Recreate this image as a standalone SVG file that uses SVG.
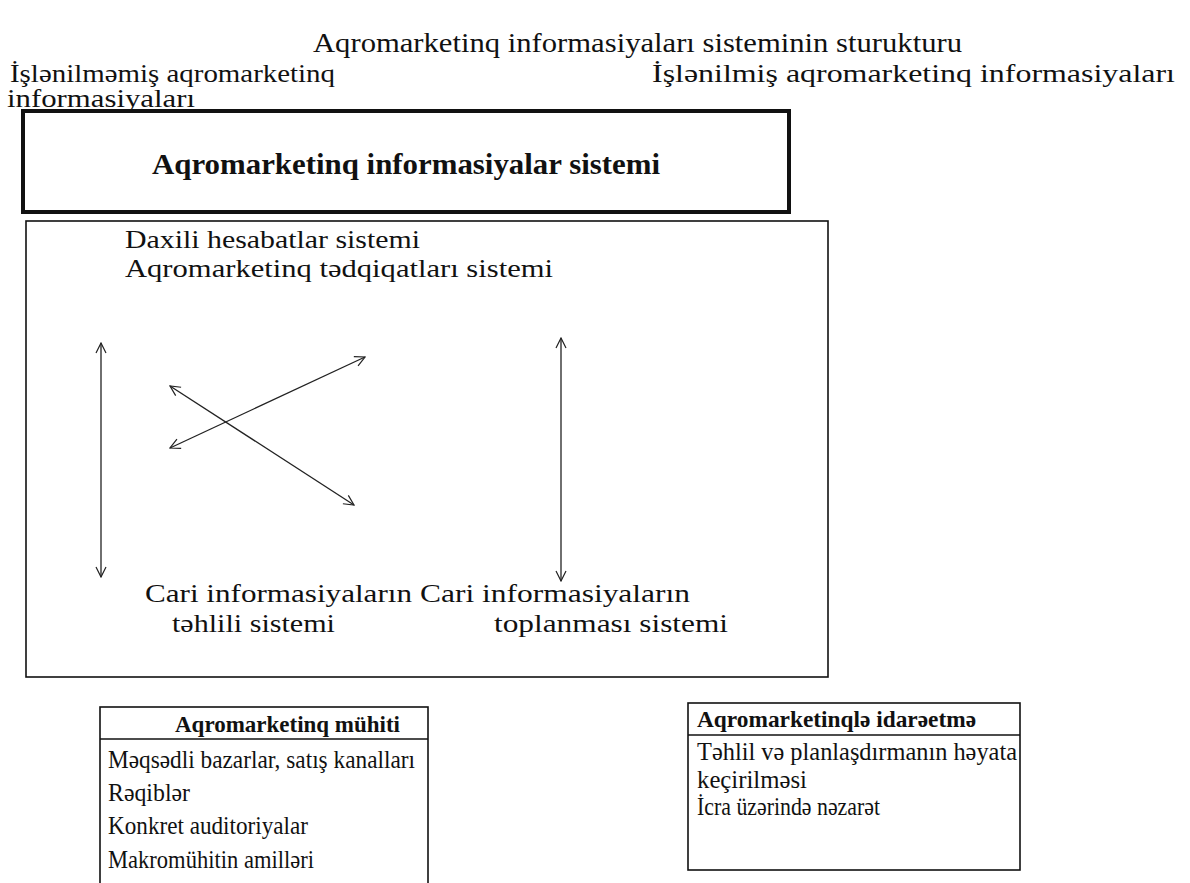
<svg xmlns="http://www.w3.org/2000/svg" width="1190" height="883" viewBox="0 0 1190 883">
<defs>
<style>
.t{font-family:"Liberation Serif","Times New Roman",serif;fill:#111;}
.b{font-weight:bold;}
.box{fill:none;stroke:#111;}
.ar{stroke:#222;stroke-width:1.3;fill:none;}
</style>
<marker id="ah" viewBox="0 0 12 12" refX="11" refY="6" markerWidth="12" markerHeight="12" markerUnits="userSpaceOnUse" orient="auto-start-reverse">
<path d="M1,1 L11,6 L1,11" fill="none" stroke="#222" stroke-width="1.2"/>
</marker>
</defs>
<rect width="1190" height="883" fill="#fff"/>
<g id="title">
<text class="t" x="313" y="52" font-size="27" textLength="649" lengthAdjust="spacingAndGlyphs">Aqromarketinq informasiyaları sisteminin sturukturu</text>
</g>
<g id="raw-info">
<text class="t" x="10" y="82" font-size="25" textLength="325" lengthAdjust="spacingAndGlyphs">İşlənilməmiş aqromarketinq</text>
<text class="t" x="7" y="107" font-size="25" textLength="188" lengthAdjust="spacingAndGlyphs">informasiyaları</text>
</g>
<g id="processed-info">
<text class="t" x="652" y="82" font-size="26" textLength="523" lengthAdjust="spacingAndGlyphs">İşlənilmiş aqromarketinq informasiyaları</text>
</g>
<g id="ais">
<rect class="box" x="23" y="111" width="766" height="101" stroke-width="4"/>
<text class="t b" x="152" y="174" font-size="29" textLength="508" lengthAdjust="spacingAndGlyphs">Aqromarketinq informasiyalar sistemi</text>
</g>
<g id="subsystems">
<rect class="box" x="26" y="221" width="802" height="456" stroke-width="1.6"/>
<text class="t" x="125" y="248" font-size="26" textLength="295" lengthAdjust="spacingAndGlyphs">Daxili hesabatlar sistemi</text>
<text class="t" x="125" y="277" font-size="26" textLength="428" lengthAdjust="spacingAndGlyphs">Aqromarketinq tədqiqatları sistemi</text>
</g>
<g id="analysis">
<text class="t" x="145" y="602" font-size="26" textLength="267" lengthAdjust="spacingAndGlyphs">Cari informasiyaların</text>
<text class="t" x="172" y="632" font-size="26" textLength="163" lengthAdjust="spacingAndGlyphs">təhlili sistemi</text>
</g>
<g id="collection">
<text class="t" x="420" y="602" font-size="26" textLength="270" lengthAdjust="spacingAndGlyphs">Cari informasiyaların</text>
<text class="t" x="494" y="632" font-size="26" textLength="234" lengthAdjust="spacingAndGlyphs">toplanması sistemi</text>
</g>
<g id="connectors">
<line class="ar" x1="101" y1="343" x2="101" y2="577" marker-start="url(#ah)" marker-end="url(#ah)"/>
<line class="ar" x1="561" y1="338" x2="561" y2="581" marker-start="url(#ah)" marker-end="url(#ah)"/>
<line class="ar" x1="170" y1="386" x2="354" y2="505" marker-start="url(#ah)" marker-end="url(#ah)"/>
<line class="ar" x1="170" y1="448" x2="365" y2="357" marker-start="url(#ah)" marker-end="url(#ah)"/>
</g>
<g id="environment">
<rect class="box" x="100" y="707" width="328" height="190" stroke-width="1.6"/>
<line class="box" x1="100" y1="739" x2="428" y2="739" stroke-width="1.6"/>
<text class="t b" x="175" y="732" font-size="24" textLength="225" lengthAdjust="spacingAndGlyphs">Aqromarketinq mühiti</text>
<text class="t" x="108" y="768" font-size="25" textLength="307" lengthAdjust="spacingAndGlyphs">Məqsədli bazarlar, satış kanalları</text>
<text class="t" x="108" y="801" font-size="25" textLength="82" lengthAdjust="spacingAndGlyphs">Rəqiblər</text>
<text class="t" x="108" y="834" font-size="25" textLength="200" lengthAdjust="spacingAndGlyphs">Konkret auditoriyalar</text>
<text class="t" x="108" y="868" font-size="25" textLength="206" lengthAdjust="spacingAndGlyphs">Makromühitin amilləri</text>
</g>
<g id="management">
<rect class="box" x="688" y="703" width="332" height="167" stroke-width="1.6"/>
<line class="box" x1="688" y1="735" x2="1020" y2="735" stroke-width="1.6"/>
<text class="t b" x="697" y="727" font-size="24" textLength="279" lengthAdjust="spacingAndGlyphs">Aqromarketinqlə idarəetmə</text>
<text class="t" x="697" y="760" font-size="25" textLength="320" lengthAdjust="spacingAndGlyphs">Təhlil və planlaşdırmanın həyata</text>
<text class="t" x="697" y="788" font-size="25" textLength="110" lengthAdjust="spacingAndGlyphs">keçirilməsi</text>
<text class="t" x="697" y="815" font-size="25" textLength="183" lengthAdjust="spacingAndGlyphs">İcra üzərində nəzarət</text>
</g>
</svg>
